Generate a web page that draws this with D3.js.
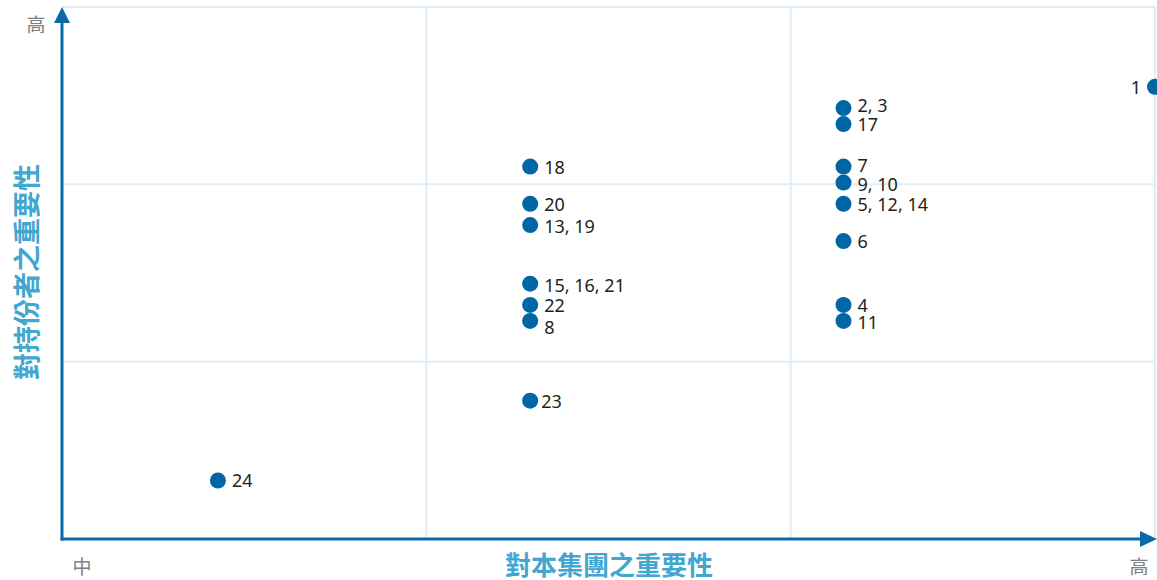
<!DOCTYPE html>
<html>
<head>
<meta charset="utf-8">
<script src="https://cdn.jsdelivr.net/npm/d3@7"></script>
<style>
  body { margin: 0; background: #fff; }
</style>
</head>
<body>
<div id="chart"></div>
<script>
// Data (both axes run 0..3, one grid cell = 1 unit)
const labels = ["1", "2, 3", "17", "7", "9, 10", "5, 12, 14", "6", "4", "11",
                "18", "20", "13, 19", "15, 16, 21", "22", "8", "23", "24"];
const groupX = [3.0, 2.145, 2.145, 2.145, 2.145, 2.145, 2.145, 2.145, 2.145,
                1.285, 1.285, 1.285, 1.285, 1.285, 1.285, 1.285, 0.428];
const groupY = [2.55, 2.43, 2.34, 2.10, 2.01, 1.89, 1.68, 1.32, 1.23,
                2.10, 1.89, 1.77, 1.44, 1.32, 1.23, 0.78, 0.33];
// small label nudges (px) where labels would collide
const labelDy = [0, -3, 0, -2, 1, 0, 0, 0, 1, 0, 0, 1, 1, 0, 6, 0, 0];

const xTicks = [0, 1, 2, 3];
const yTicks = [0, 1, 2, 3];
const xEndLabels = ["中", "高"];
const yEndLabel = "高";
const xTitle = "對本集團之重要性";
const yTitle = "對持份者之重要性";

const W = 1157, H = 580;
const plotLeft = 62, plotRight = 1155, plotTop = 7, plotBottom = 539;

const svg = d3.select("#chart").append("svg")
    .attr("width", W)
    .attr("height", H);

const x = d3.scaleLinear().domain([0, 3]).range([plotLeft, plotRight]);
const y = d3.scaleLinear().domain([0, 3]).range([plotBottom, plotTop]);

const gridColor = "#e1edf6";
const axisColor = "#0a69a8";
const dotColor = "#0067a6";
const titleColor = "#41a6d0";

// Grid
svg.append("g").selectAll("line")
    .data(xTicks.slice(1))
    .join("line")
    .attr("x1", d => x(d)).attr("x2", d => x(d))
    .attr("y1", plotTop).attr("y2", plotBottom)
    .attr("stroke", gridColor).attr("stroke-width", 2);

svg.append("g").selectAll("line")
    .data(yTicks.slice(1))
    .join("line")
    .attr("x1", plotLeft).attr("x2", plotRight)
    .attr("y1", d => y(d)).attr("y2", d => y(d))
    .attr("stroke", gridColor).attr("stroke-width", 2);

// Axes with arrowheads
svg.append("line")
    .attr("x1", plotLeft).attr("y1", plotBottom + 1.5)
    .attr("x2", plotLeft).attr("y2", plotTop + 14)
    .attr("stroke", axisColor).attr("stroke-width", 3);
svg.append("line")
    .attr("x1", plotLeft - 1.5).attr("y1", plotBottom)
    .attr("x2", W - 14).attr("y2", plotBottom)
    .attr("stroke", axisColor).attr("stroke-width", 3);

svg.append("path")
    .attr("d", `M${plotLeft},${plotTop} L${plotLeft + 8},${plotTop + 16} L${plotLeft - 8},${plotTop + 16} Z`)
    .attr("fill", axisColor);
svg.append("path")
    .attr("d", `M${W},${plotBottom} L${W - 17},${plotBottom - 8} L${W - 17},${plotBottom + 8} Z`)
    .attr("fill", axisColor);

// End labels
const cjkFont = "'Noto Sans CJK TC', 'Noto Sans CJK SC', sans-serif";
function endLabel(px, py, txt) {
    svg.append("text")
        .attr("x", px).attr("y", py)
        .attr("text-anchor", "middle").attr("dominant-baseline", "central")
        .attr("font-family", cjkFont).attr("font-size", 19)
        .attr("fill", "#808080")
        .text(txt);
}
endLabel(36, 23, yEndLabel);
endLabel(82, 565, xEndLabels[0]);
endLabel(1139, 565, xEndLabels[1]);

// Axis titles
svg.append("text")
    .attr("x", 609).attr("y", 563)
    .attr("text-anchor", "middle").attr("dominant-baseline", "central")
    .attr("font-family", cjkFont).attr("font-size", 26).attr("font-weight", 700)
    .attr("fill", titleColor)
    .text(xTitle);
svg.append("text")
    .attr("transform", `translate(25, 272) rotate(-90)`)
    .attr("text-anchor", "middle").attr("dominant-baseline", "central")
    .attr("font-family", cjkFont).attr("font-size", 27).attr("font-weight", 700)
    .attr("fill", titleColor)
    .text(yTitle);

// Points
const points = labels.map((l, i) => ({ label: l, x: groupX[i], y: groupY[i], dy: labelDy[i] }));

svg.append("g").selectAll("circle")
    .data(points)
    .join("circle")
    .attr("cx", d => x(d.x))
    .attr("cy", d => y(d.y))
    .attr("r", 8)
    .attr("fill", dotColor);

svg.append("g").selectAll("text")
    .data(points)
    .join("text")
    .attr("x", d => d.x >= 3 ? x(d.x) - 14 : x(d.x) + (d.label === "23" ? 11 : 14))
    .attr("y", d => y(d.y) + d.dy)
    .attr("text-anchor", d => d.x >= 3 ? "end" : "start")
    .attr("dominant-baseline", "central")
    .attr("font-family", "'Noto Sans', sans-serif")
    .attr("font-size", 18)
    .attr("fill", "#231f20")
    .text(d => d.label);
</script>
</body>
</html>
